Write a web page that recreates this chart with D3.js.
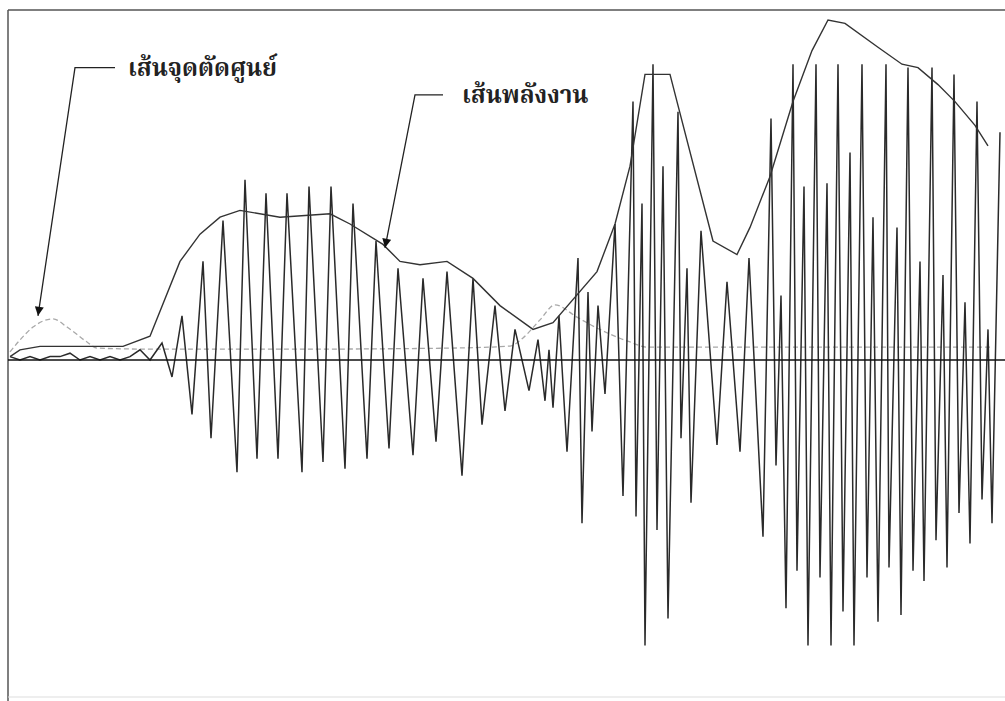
<!DOCTYPE html>
<html lang="th">
<head>
<meta charset="utf-8">
<title>เส้นพลังงาน / เส้นจุดตัดศูนย์</title>
<script src="https://d3js.org/d3.v7.min.js"></script>
<style>
body {
  margin: 0;
  background: #fff;
}

.wave {
  fill: none;
  stroke: #2a2a2a;
  stroke-width: 1.5px;
  stroke-linejoin: miter;
}

.energy {
  fill: none;
  stroke: #333;
  stroke-width: 1.4px;
}

.zcr {
  fill: none;
  stroke: #a8a8a8;
  stroke-width: 1.3px;
  stroke-dasharray: 5,3;
}

.label {
  font-family: "Noto Serif Thai", "Noto Sans Thai", "Loma", "Garuda", "Noto Sans", sans-serif;
  font-size: 24px;
  font-weight: bold;
  fill: #222;
}
</style>
</head>
<body>
<div id="chart"></div>
<script>

// waveform extrema (sample index, amplitude %)
var waveT = [2, 12, 22, 32, 42, 52, 62, 72, 82, 92, 102, 112, 122, 132, 142,
  154, 164, 174, 184, 195, 203, 215, 229, 237, 249, 258, 270, 279, 294, 301,
  315, 323, 337, 345, 359, 368, 381, 390, 405, 415, 428, 439, 454, 465, 474,
  487, 497, 507, 521, 530, 537, 541, 545, 551, 559, 570, 574, 580, 584, 590,
  597, 607, 615, 625, 628, 634, 637, 645, 649, 655, 660, 670, 673, 679, 683,
  693, 709, 719, 732, 741, 755, 763, 768, 773, 778, 785, 789, 796, 800, 808,
  812, 819, 823, 830, 835, 842, 846, 854, 859, 865, 870, 878, 881, 889, 893,
  900, 905, 912, 916, 924, 928, 935, 939, 946, 951, 957, 962, 969, 974, 980,
  984, 992];
var waveAmp = [1, 0, 1, 0, 1, 1, 2, 0, 1, 0, 1, 0, 1, 3, 0,
  5, -5, 13, -16, 29, -23, 41, -33, 53, -29, 49, -29, 49, -33, 51,
  -30, 51, -32, 46, -29, 35, -26, 27, -28, 24, -24, 26, -34, 24, -19,
  16, -15, 9, -9, 6, -12, 3, -14, 13, -27, 30, -48, 20, -21, 16,
  -10, 40, -40, 76, -46, 46, -84, 87, -50, 57, -76, 73, -23, 27, -42,
  38, -25, 23, -27, 30, -52, 71, -31, 19, -73, 87, -62, 51, -84, 87,
  -64, 52, -84, 87, -74, 61, -84, 87, -64, 42, -77, 87, -61, 39, -75,
  86, -62, 29, -65, 86, -53, 25, -61, 84, -45, 17, -54, 76, -41, 9,
  -48, 67];

// energy contour
var energyT = [2, 12, 32, 115, 142, 172, 192, 212, 232, 272, 322, 342, 375, 392,
  412, 439, 465, 492, 525, 545, 589, 607, 622, 637, 662, 669, 705, 729, 742,
  762, 785, 804, 820, 837, 870, 894, 910, 930, 947, 967, 980];
var energyVal = [1, 3, 4, 4, 7, 29, 37, 42, 44, 42, 43, 40, 34, 29,
  28, 29, 24, 16, 9, 11, 26, 40, 57, 84, 84, 76, 35, 31, 39,
  54, 76, 91, 100, 99, 92, 87, 86, 81, 76, 69, 63];

// zero crossing rate contour
var zcrT = [2, 12, 25, 45, 59, 79, 89, 142, 292, 442, 502, 515, 532, 547, 569,
  589, 622, 639, 792, 982];
var zcrVal = [2.4, 5.9, 9.7, 12.1, 9.7, 5.3, 3.5, 3.2, 3.2, 3.5, 4.1, 6.5, 11.8,
  16.2, 12.6, 9.4, 5.3, 3.8, 3.8, 3.8];

// annotations: text, text start, leader start, arrow tip
var labelText = ["เส้นจุดตัดศูนย์", "เส้นพลังงาน"];
var labelT = [120, 454];
var labelVal = [86, 78];
var leaderT = [67, 407];
var stubT = [107, 435];
var tipT = [30, 377];
var tipVal = [13, 33];

const width = 1005,
    height = 701;

var svg = d3.select("#chart")
    .append("svg")
    .attr("width", width)
    .attr("height", height)
    .attr("viewBox", [0, 0, width, height]);

var x = d3.scaleLinear()
    .domain([0, 995])
    .range([8, 1003]);

var y = d3.scaleLinear()
    .domain([-100, 100])
    .range([700, 20]);

// frame
svg.append("line")
    .attr("x1", 8).attr("x2", width)
    .attr("y1", 10).attr("y2", 10)
    .attr("stroke", "#555").attr("stroke-width", 1.5);
svg.append("line")
    .attr("x1", 8).attr("x2", 8)
    .attr("y1", 10).attr("y2", height)
    .attr("stroke", "#555").attr("stroke-width", 1.5);
svg.append("line")
    .attr("x1", 8).attr("x2", width)
    .attr("y1", 697).attr("y2", 697)
    .attr("stroke", "#ddd").attr("stroke-width", 1);

var wave = waveT.map(function(t, i) { return [t, waveAmp[i]]; });
var energy = energyT.map(function(t, i) { return [t, energyVal[i]]; });
var zcr = zcrT.map(function(t, i) { return [t, zcrVal[i]]; });

var line = d3.line()
    .x(function(d) { return x(d[0]); })
    .y(function(d) { return y(d[1]); });

svg.append("path")
    .attr("class", "zcr")
    .attr("d", line.curve(d3.curveMonotoneX)(zcr));

svg.append("path")
    .attr("class", "wave")
    .attr("d", line.curve(d3.curveLinear)(wave));

// zero axis
svg.append("line")
    .attr("x1", 8).attr("x2", width)
    .attr("y1", y(0)).attr("y2", y(0))
    .attr("stroke", "#111").attr("stroke-width", 1.6);

svg.append("path")
    .attr("class", "energy")
    .attr("d", line.curve(d3.curveLinear)(energy));

// arrow head
svg.append("defs").append("marker")
    .attr("id", "arrow")
    .attr("viewBox", "0 0 10 10")
    .attr("refX", 10).attr("refY", 5)
    .attr("markerWidth", 11).attr("markerHeight", 9)
    .attr("markerUnits", "userSpaceOnUse")
    .attr("orient", "auto")
  .append("path")
    .attr("d", "M0,0L10,5L0,10Z")
    .attr("fill", "#111");

labelText.forEach(function(txt, i) {
  svg.append("path")
      .attr("d", d3.line()([
        [x(stubT[i]), y(labelVal[i])],
        [x(leaderT[i]), y(labelVal[i])],
        [x(tipT[i]), y(tipVal[i])]
      ]))
      .attr("fill", "none")
      .attr("stroke", "#222")
      .attr("stroke-width", 1.3)
      .attr("marker-end", "url(#arrow)");

  svg.append("text")
      .attr("class", "label")
      .attr("x", x(labelT[i]))
      .attr("y", y(labelVal[i]))
      .attr("dy", "0.35em")
      .text(txt);
});

</script>
</body>
</html>
